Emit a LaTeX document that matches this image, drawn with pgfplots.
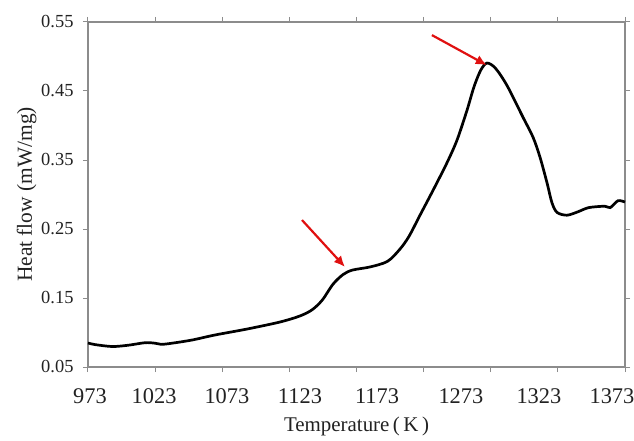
\documentclass[border=0pt]{standalone}
\usepackage{fontspec}
\setmainfont{Liberation Serif}
\usepackage{pgfplots}
\pgfplotsset{compat=1.18}
\usetikzlibrary{arrows.meta}
\definecolor{axgray}{HTML}{8C8C8C}
\definecolor{txt}{HTML}{222222}
\definecolor{arrred}{HTML}{E01010}
\begin{document}
\begin{tikzpicture}
\useasboundingbox (-88bp,-74bp) rectangle (546bp,367bp);
\begin{axis}[
  at={(0,0)}, anchor=south west,
  scale only axis, width=537bp, height=345bp,
  xmin=973, xmax=1373, ymin=0.05, ymax=0.55,
  axis line style={axgray, line width=1.3bp},
  every tick/.style={axgray, line width=1bp},
  tick align=outside, major tick length=5bp,
  xtick={973,1023,...,1373},
  xticklabels={,,,,,,,,},
  extra x ticks={974.5,1022.2,1076.5,1130.9,1188.3,1250.8,1308.9,1363.3},
  extra x tick labels={973,1023,1073,1123,1173,1273,1323,1373},
  extra x tick style={major tick length=0pt},
  xticklabel style={font=\fontsize{22.5}{22.5}\selectfont, text=txt, yshift=-18bp},
  ytick={0.05,0.15,0.25,0.35,0.45,0.55},
  yticklabel style={font=\fontsize{18.5}{18.5}\selectfont, text=txt, /pgf/number format/.cd, fixed, fixed zerofill, precision=2},
  yticklabel shift=6bp,
  /pgf/number format/assume math mode=true,
  xlabel={Temperature\,(\,K\,)},
  ylabel={Heat flow (mW/mg)},
  xlabel style={font=\fontsize{21}{21}\selectfont, text=txt, yshift=-1bp},
  ylabel style={font=\fontsize{21.5}{21.5}\selectfont, text=txt, yshift=-2bp},
  clip=false,
]
\addplot[black, line width=2.7bp, smooth, tension=0.5] coordinates {
(973,0.0848) (978.2,0.0825) (990.9,0.0797) (1002.8,0.0815) (1015.5,0.0852)
(1022.9,0.0845) (1027.5,0.0828) (1035.6,0.0845) (1050.5,0.0891) (1067.6,0.0964)
(1091.4,0.1050) (1116.0,0.1152) (1130.9,0.1240) (1140.0,0.1330) (1147.5,0.1470)
(1155.5,0.1700) (1163.0,0.1840) (1170.0,0.1905) (1183.1,0.1950) (1196.0,0.2030)
(1205.0,0.2200) (1212.0,0.2390) (1220.3,0.2700) (1230.0,0.3060) (1240.4,0.3460)
(1247.9,0.3790) (1255.3,0.4220) (1260.5,0.4560) (1265.5,0.4800) (1270.2,0.4905)
(1276.5,0.4830) (1285.1,0.4580) (1297.0,0.4120) (1304.5,0.3830) (1309.7,0.3540)
(1314.9,0.3170) (1318.6,0.2880) (1322.4,0.2740) (1329.8,0.2700) (1338.0,0.2750)
(1346.0,0.2810) (1358.0,0.2830) (1362.0,0.2810) (1367.8,0.2910) (1373,0.2890)
};
\draw[arrred, line width=2.2bp, -{Latex[length=11bp,width=10bp]}] (axis cs:1229.2,0.531) -- (axis cs:1270.0,0.4875);
\draw[arrred, line width=2.2bp, -{Latex[length=11bp,width=10bp]}] (axis cs:1132.4,0.263) -- (axis cs:1164.4,0.195);
\end{axis}
\end{tikzpicture}
\end{document}
